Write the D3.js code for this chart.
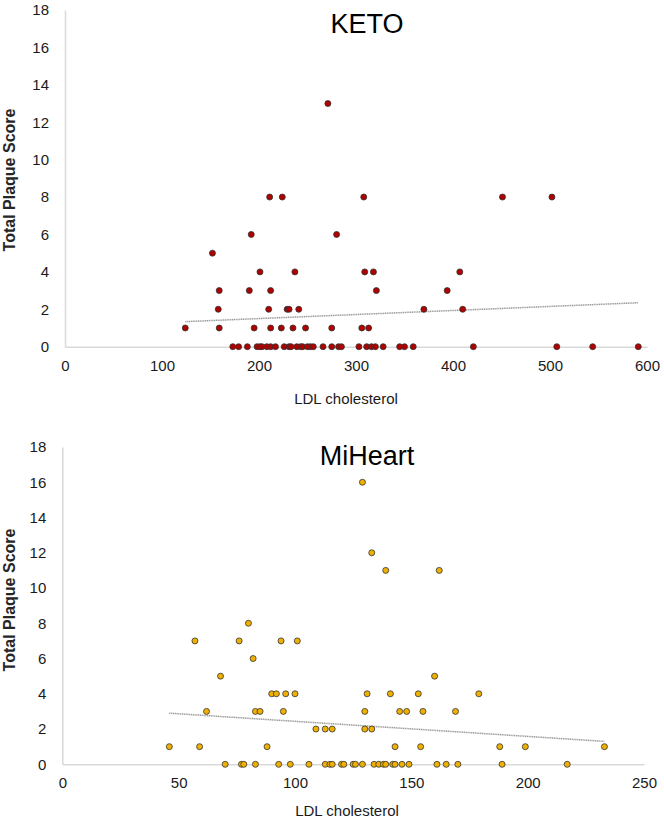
<!DOCTYPE html>
<html>
<head>
<meta charset="utf-8">
<script src="https://cdn.jsdelivr.net/npm/d3@7"></script>
<style>
  html, body { margin: 0; padding: 0; background: #ffffff; }
  svg { display: block; font-family: "Liberation Sans", Arial, sans-serif; }
</style>
</head>
<body>
<svg id="chart" width="664" height="823"></svg>
<script>
// ---------- DATA ----------
const yTicks = [0, 2, 4, 6, 8, 10, 12, 14, 16, 18];
const ketoXTicks = [0, 100, 200, 300, 400, 500, 600];
const miXTicks = [0, 50, 100, 150, 200, 250];

const ketoLDL = [
  173,179,188,198,201,203,208,212,217,226,231,233,239,243,245,250,253,256,266,275,282,285,303,311,316,320,328,345,350,359,421,507,544,591,
  124,159,195,212,223,235,248,275,306,313,
  158,210,229,231,241,370,410,
  159,190,212,321,394,
  201,237,309,318,407,
  152,
  192,280,
  211,224,308,451,502,
  271
];
const ketoScore = [
  0,0,0,0,0,0,0,0,0,0,0,0,0,0,0,0,0,0,0,0,0,0,0,0,0,0,0,0,0,0,0,0,0,0,
  1,1,1,1,1,1,1,1,1,1,
  2,2,2,2,2,2,2,
  3,3,3,3,3,
  4,4,4,4,4,
  5,
  6,6,
  8,8,8,8,8,
  13
];
const ketoTrendLDL = [124, 591];
const ketoTrendScore = [1.34, 2.35];

const miLDL = [
  70,77,78,83,93,98,106,113,115,116,120,121,125,126,129,134,136,138,139,142,143,146,149,161,165,170,189,217,
  46,59,88,143,154,188,199,233,
  109,113,116,130,133,
  62,83,85,95,130,145,148,155,169,
  90,92,96,100,131,141,153,179,
  68,160,
  82,
  57,76,94,101,
  80,
  139,162,
  133,
  129
];
const miScore = [
  0,0,0,0,0,0,0,0,0,0,0,0,0,0,0,0,0,0,0,0,0,0,0,0,0,0,0,0,
  1,1,1,1,1,1,1,1,
  2,2,2,2,2,
  3,3,3,3,3,3,3,3,3,
  4,4,4,4,4,4,4,4,
  5,5,
  6,
  7,7,7,7,
  8,
  11,11,
  12,
  16
];
const miTrendLDL = [46, 233];
const miTrendScore = [2.9, 1.3];

// ---------- DRAW ----------
const svg = d3.select("#chart");

function panel(cfg) {
  const x = d3.scaleLinear().domain(cfg.xDomain).range(cfg.xRange);
  const y = d3.scaleLinear().domain([0, 18]).range(cfg.yRange);
  const g = svg.append("g");

  // y axis
  const ya = g.append("g")
    .attr("transform", `translate(${cfg.xRange[0]},0)`)
    .call(d3.axisLeft(y).tickValues(yTicks).tickSize(0).tickPadding(cfg.yPad));
  ya.select(".domain").attr("stroke", "#d9d9d9").attr("stroke-width", 1.5);
  ya.selectAll("text").attr("font-size", 15).attr("fill", "#1a1a1a")
    .attr("font-family", "Liberation Sans, Arial, sans-serif");

  // x axis
  const xa = g.append("g")
    .attr("transform", `translate(0,${cfg.yRange[0]})`)
    .call(d3.axisBottom(x).tickValues(cfg.xTicks).tickSize(0).tickPadding(cfg.xPad));
  xa.select(".domain").attr("stroke", "#d9d9d9").attr("stroke-width", 1.5);
  xa.selectAll("text").attr("font-size", 15).attr("fill", "#1a1a1a")
    .attr("font-family", "Liberation Sans, Arial, sans-serif");

  // trend line
  g.append("line")
    .attr("x1", x(cfg.trendX[0])).attr("y1", y(cfg.trendY[0]))
    .attr("x2", x(cfg.trendX[1])).attr("y2", y(cfg.trendY[1]))
    .attr("stroke", "#999999").attr("stroke-width", 1.5)
    .attr("stroke-dasharray", "1.2,0.6");

  // points
  const pts = cfg.xs.map((v, i) => ({ x: v, y: cfg.ys[i] }));
  g.append("g").selectAll("circle").data(pts).join("circle")
    .attr("cx", d => x(d.x)).attr("cy", d => y(d.y))
    .attr("r", 3)
    .attr("fill", cfg.color)
    .attr("stroke", "#333333").attr("stroke-width", 0.8);

  // title
  g.append("text")
    .attr("x", cfg.titleX).attr("y", cfg.titleY)
    .attr("text-anchor", "middle").attr("font-size", 27).attr("fill", "#000")
    .text(cfg.title);

  // x axis title
  g.append("text")
    .attr("x", cfg.xTitleX).attr("y", cfg.xTitleY)
    .attr("text-anchor", "middle").attr("font-size", 15).attr("fill", "#1a1a1a")
    .text("LDL cholesterol");

  // y axis title
  g.append("text")
    .attr("transform", `translate(${cfg.yTitleX},${cfg.yTitleY}) rotate(-90)`)
    .attr("text-anchor", "middle").attr("font-size", 16).attr("font-weight", "bold")
    .attr("fill", "#262626")
    .text("Total Plaque Score");
}

panel({
  xDomain: [0, 600], xRange: [65, 647], yRange: [346.7, 10],
  xTicks: ketoXTicks, yPad: 16, xPad: 14,
  xs: ketoLDL, ys: ketoScore, color: "#b00000",
  trendX: ketoTrendLDL, trendY: ketoTrendScore,
  title: "KETO", titleX: 367, titleY: 33,
  xTitleX: 346, xTitleY: 404,
  yTitleX: 15, yTitleY: 180
});

panel({
  xDomain: [0, 250], xRange: [62.3, 644], yRange: [764.3, 447],
  xTicks: miXTicks, yPad: 16, xPad: 13,
  xs: miLDL, ys: miScore, color: "#f0b000",
  trendX: miTrendLDL, trendY: miTrendScore,
  title: "MiHeart", titleX: 367, titleY: 465,
  xTitleX: 347, xTitleY: 816,
  yTitleX: 15, yTitleY: 600
});
</script>
</body>
</html>
